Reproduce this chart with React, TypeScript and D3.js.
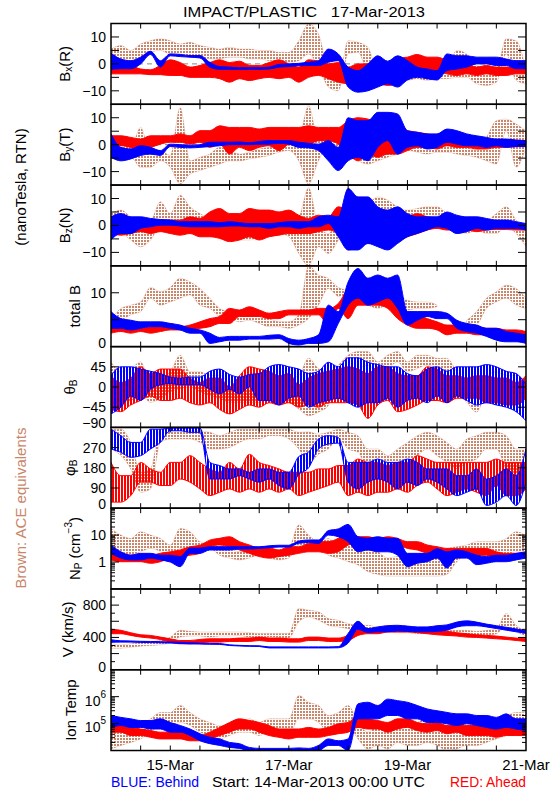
import React from "react";
import * as d3 from "d3";

// time axis: hours since 14-Mar-2013 00:00 UTC (4-hour bins)
const hours = [0, 4, 8, 12, 16, 20, 24, 28, 32, 36, 40, 44, 48, 52, 56, 60, 64, 68, 72, 76, 80, 84, 88, 92, 96, 100, 104, 108, 112, 116, 120, 124, 128, 132, 136, 140, 144, 148, 152, 156, 160, 164, 168];
const dayTicks = [24, 72, 120, 168];
const dayLabels = ["15-Mar", "17-Mar", "19-Mar", "21-Mar"];
const halfDayTicks = [12, 24, 36, 48, 60, 72, 84, 96, 108, 120, 132, 144, 156];

// ---- Bx (R), nT ----
const bxBlueLo = [-2, -1.8, -1.8, 0, 3.5, -1.2, 3, 2.7, 2.5, 2.2, -1.2, -2, -2, -2, -2, -2, -1.9, -1.2, -1, -0.7, -0.6, -0.6, 0.6, 1.2, -8.6, -10.5, -10, -8.6, -7.4, -8.6, -6, -5, -5.5, -6, -2.5, -1.9, -1.2, 0, 0, -0.6, -0.6, -1.8, -1.8];
const bxBlueHi = [4, 1.8, 1.2, 2.5, 4.7, 1.2, 3.7, 3.5, 3.1, 3.1, 0.6, -1, -1.2, -1.4, -1.4, -1.4, -1.2, -0.2, 0, 0.2, 0.6, 1.2, 5.5, 3.7, -1.2, -2.5, 0, 3, 1, 3, 1.2, -1.2, -1.9, -2.5, 3.7, 3, 3, 2.5, 2.5, 2.5, 1.8, 1.2, 1.2];
const bxRedLo = [-3.7, -3.7, -3.7, -3.7, -4, -4, -4.3, -4.3, -5, -5, -5, -5.5, -6.8, -5.5, -6.2, -5.5, -5, -5.5, -5, -6.8, -5, -4.3, -5.5, -6.8, -7.4, -8, -9, -7.4, -8, -7.4, -5.5, -3.7, -3.7, -2.5, -3.7, -4.3, -3.7, -4.3, -3.7, -4.3, -4.3, -3.7, -3.7];
const bxRedHi = [0.5, 0, -0.6, -1.9, -2.2, -0.5, 1.5, 0.5, -1.2, -0.6, 0.5, 1.5, 0.5, 1, -0.5, -0.6, 0.5, 1.5, 0, -1.2, 1.5, 1, 0, 0.5, -1.2, 0, 0, 1, 0, 2, 2.5, 3.5, 2.5, 2.5, 1.2, -0.6, 0, -1.2, -0.6, -1.2, -1.2, -1.2, -1.2];
const bxAceLo = [0.6, 1.2, 0, 2.5, 4.3, 5, 3.7, 3.7, 2.5, 2.5, 1.9, 1.9, 2.5, 2.5, 1.9, 1.9, 1.2, 1.2, 0.6, 1.2, 3.7, -1.2, -8.6, -10, 3.7, 4.3, -3.7, -6.2, -6.8, -6.8, -6.2, -5.5, -6.2, -5.5, -5.5, -5, -5, -7.4, -8, -6.8, 3.7, -6.2, -7.4];
const bxAceHi = [5.5, 6.8, 5, 7.4, 8.6, 9.3, 8.6, 7.4, 8, 6.8, 6.2, 5.5, 6.2, 5.5, 5.5, 5, 5, 4.3, 4.3, 8.6, 14.8, 11, -2.5, -6.2, 8.6, 8, 6.2, -2.5, -2.5, -3, -3, -2.5, -2.5, -2.2, -1.2, 5, 3.7, -0.6, -1.2, -1.9, 9.3, 8.6, -2.5];

// ---- By (T), nT ----
const byBlueLo = [-4.7, -6, -5.3, -4, -3.5, -4, -0.7, -1, -1.2, -1, -0.7, -0.4, 0, 0, 0, 0.2, 0.2, 0.5, 0.2, -1, -1.2, -2.2, -6, -9.6, -6, -4.7, -6, -1, 1.5, -3.5, -1, -0.4, -1.6, -1, 0.9, 0.2, -0.4, -0.4, -1, -0.4, -1, -0.7, -0.7];
const byBlueHi = [4, -1, -1.6, -0.4, -1, -2.2, 0.2, 0, -0.2, 0, 0.9, 0.9, 0.9, 1, 0.7, 1.2, 1.5, 1.5, 1.5, 0.9, 0.5, 0.2, 1.5, -1, 10, 8.9, 8.9, 12, 12, 11.4, 5.2, 4.6, 4, 4, 5.8, 5.2, 4, 3.3, 2.7, 2.1, 2.1, 1.7, 1.5];
const byRedLo = [-1, -0.4, -1, -1.6, -1, 0.2, 0.9, 0.9, 0.2, 0.9, -1, 0.2, -3.5, -1, -2.2, -1, -0.4, -2.2, 0.2, 0.9, 0.2, 1.5, 1.5, 0.2, -3.5, -6, -3.5, -4.7, -3.5, -3.5, -2.2, -1, -1, -1.6, -0.4, -1, -1, -1.6, -1.6, -1, -1, -0.7, -0.7];
const byRedHi = [3.3, 3.3, 2.7, 2.1, 3.3, 3.3, 3.3, 4, 3.3, 5.2, 5.2, 7, 6.4, 6.4, 6.4, 5.8, 6.4, 6.4, 6.4, 6.4, 7, 6.4, 6.4, 6.4, 8.9, 10, 9.5, 8.3, 7.7, 6.4, 5.2, 4.6, 4, 3.3, 3.3, 2.7, 2.7, 2.1, 2.1, 1.7, 1.5, 1.5, 1.5];
const byAceLo = [-3.5, -6, -4.7, -8.4, -8.4, -6, -8.4, -14.6, -10.9, -9.6, -8.4, -7.2, -6, -6, -5.3, -4.7, -4, -2.8, -2.2, -6, -14.6, -6, 0.2, -3.5, -3.5, -6, -7.2, -6, -4.7, -3.5, -2.2, -2.8, -3.5, -2.8, -2.8, -3.5, -4, -4.7, -6, -7.2, 5.2, -8.4, -1];
const byAceHi = [-0.4, 1.5, -1, 6.4, -3.5, -2.2, -4, 13.8, -6, -4.7, -3.5, -1, -2.2, -3.5, -2.8, -1.6, -1, 0.2, 1.5, 2.7, 14.4, 1.5, 5.2, 4, 1.5, 1.5, -1, 5.2, 1.5, 4.6, 4, 1.5, 0.2, 0.9, 0.2, -0.4, -1, -2.2, 2.7, 8.9, 9.5, 7.7, 5.2];

// ---- Bz (N), nT ----
const bzBlueLo = [-5.4, -3, -3, -1.1, -0.5, 0.1, 0.1, -0.2, -0.5, -0.5, -0.5, -0.5, -0.2, -0.2, -0.5, -0.5, -1.1, -0.5, -0.5, -1.1, -0.5, -0.5, 0.7, -4.2, -9.1, -9.1, -6.7, -7.9, -9.1, -6.7, -4.2, -3, -1.7, -0.5, -1.1, -3, -2.3, -1.1, -1.7, -1.1, -1.1, -1.1, -1.7];
const bzBlueHi = [3.2, 4.4, 3.2, 3.2, 2.6, 2.2, 2, 1.4, 1.4, 1.4, 1.4, 1, 1.4, 1, 0.7, 0.7, 0.7, 1, 1.4, 1.4, 1.4, 3.2, 3.8, 3.2, 13.7, 10.6, 10.6, 6.9, 5.7, 6.9, 4.4, 3.2, 3.2, 3.2, 5, 3.8, 3.2, 3.2, 2.6, 2, 2, 1.4, 0.7];
const bzRedLo = [-3, -3.6, -3, -2.3, -3, -2.3, -3, -3.6, -3, -4.2, -4.2, -4.8, -6, -5.4, -4.2, -5.4, -4.2, -3.6, -3, -3, -3, -2.3, -1.7, -3, -9.1, -7.9, -6.7, -6.7, -6, -5.4, -4.2, -3, -1.7, -1.1, -1.7, -1.7, -1.7, -2.3, -1.7, -1.5, -1.5, -1.7, -1.7];
const bzRedHi = [2, 2, 1.4, 2, 1.4, 2, 2, 2, 3.2, 2.6, 5, 6.3, 4.4, 4.4, 6.3, 5.7, 5.7, 5, 5.7, 3.8, 2.6, 3.8, 3.2, 6.9, 5.7, 4.4, 5, 4.4, 5, 4.4, 3.2, 4.4, 3.2, 2.6, 2.6, 2, 2, 2, 1.4, 1, 1, 0.7, 0.5];
const bzAceLo = [-4.2, -3, -5.4, -7.9, -5.4, -0.5, -3, -0.5, -3, -1.7, -1.7, -3, -4.2, -5.4, -5.4, -4.2, -3, -3, -4.2, -10.4, -15, -7.9, -10.4, -5.4, 2, 0.7, 4.4, 4.4, 3.2, 2, 2, 3.2, 3.2, 3.8, 0.7, -1.7, -3, -1.7, -3, -3, -0.5, -3, -7.9];
const bzAceHi = [4.4, 5.7, 3.2, 2, 2, 8.8, 4.4, 11.2, 6.9, 4.4, 2.6, 2, 0.7, 0.1, -0.5, 0.7, 2, 2, 2, 3.2, 14, -0.5, -3, 2, 6.9, 6.9, 8.1, 10.6, 9.4, 6.9, 5.7, 6.3, 6.9, 6.9, 4.4, 2, 2, 3.2, 2, 4.4, 6.9, 2, -3];

// ---- total B, nT ----
const btBlueLo = [3.4, 3.4, 3.1, 3.4, 3.7, 3.7, 3.4, 3.1, 2.5, 2.5, 0.6, 0.9, 1.2, 1.2, 1.4, 1.4, 1.4, 1.5, 0.6, 0.3, 0.6, 0.6, 0.9, 4.3, 7.7, 9, 7.7, 8.3, 9, 7.1, 4, 4.9, 5.6, 5.2, 5.2, 3.4, 2.8, 2.5, 1.9, 1.2, 0.9, 0.9, 0.6];
const btBlueHi = [6.5, 5.2, 4.9, 4.6, 4.6, 4.6, 4.3, 4, 3.4, 3.1, 2.5, 1.7, 1.9, 1.9, 1.9, 1.9, 2.1, 2.2, 1.5, 1.2, 1.5, 2.2, 7.7, 6.5, 12, 14.5, 12.7, 13.3, 12.7, 13.3, 6.5, 6.5, 6.5, 6.5, 6.2, 4.9, 4.3, 4, 3.4, 3.4, 2.8, 2.5, 2.2];
const btRedLo = [2.5, 2.8, 2.5, 2.8, 2.5, 2.8, 3.1, 3.1, 3.1, 3.4, 3.7, 4.3, 4.3, 5.6, 5.6, 5.6, 5.2, 5.2, 5.9, 5.9, 5.9, 5.9, 4, 7.1, 5.2, 7.7, 7.7, 7.7, 7.1, 5.2, 4, 3.4, 3.4, 3.1, 2.2, 2.5, 2.5, 2.2, 2.2, 1.9, 1.5, 1.2, 1.2];
const btRedHi = [4.3, 4, 3.7, 3.4, 3.7, 4, 4.3, 3.7, 4, 4.6, 5.2, 5.6, 7.1, 6.8, 7.4, 6.8, 6.2, 6.5, 6.8, 6.8, 6.8, 7.1, 7.1, 8, 10.8, 12, 10.2, 9.6, 9, 8.3, 6.5, 5.9, 5.2, 4.6, 4, 4, 3.7, 3.7, 3.4, 3.4, 3.1, 3.1, 2.8];
const btAceLo = [2.5, 4.6, 5.9, 6.5, 9, 7.7, 8.3, 9, 9.6, 7.7, 7.1, 5.6, 5.2, 4.6, 4.9, 4.3, 3.7, 3.7, 3.4, 4, 5.2, 7.7, 10.8, 9.3, 9, 8.3, 7.7, 7.1, 7.7, 7.1, 6.8, 7.1, 7.1, 7.4, NaN, NaN, 3.4, 4, 7.1, 8.3, 9, 7.7, 7.1];
const btAceHi = [4.9, 7.1, 7.7, 8.3, 11, 10.2, 11, 12.7, 12, 10.8, 9, 7.1, 6.5, 6.2, 6.2, 5.6, 5.2, 4.6, 4.6, 5.9, 15, 13.3, 12.7, 11, 10.5, 10.2, 9.3, 9, 9, 9.6, 8.6, 8.3, 8.3, 7.7, NaN, NaN, 4.9, 6.5, 9, 10.2, 11.4, 10.8, 9];

// ---- theta_B, degrees ----
const thBlueLo = [-60, -45, -20, -30, -5, 5, 8, 5, 5, 5, -5, -15, -5, -15, 0, -30, -30, -40, -25, -20, -45, -35, -30, -25, -35, -45, -35, -35, -25, -45, -30, -25, -35, -20, -35, -20, -30, -40, -35, -40, -45, -55, -75];
const thBlueHi = [25, 45, 45, 40, 35, 30, 22, 20, 22, 22, 35, 40, 28, 22, 28, 30, 45, 50, 45, 40, 30, 35, 55, 45, 65, 65, 55, 50, 45, 45, 30, 25, 40, 45, 35, 45, 45, 45, 50, 45, 35, 30, 5];
const thRedLo = [-50, -55, -40, -30, -20, -30, -30, -25, -35, -40, -35, -50, -60, -50, -40, -45, -35, -40, -35, -45, -40, -45, -35, -35, -35, -40, -70, -40, -30, -55, -50, -40, -30, -30, -35, -25, -25, -25, -35, -35, -40, -40, -25];
const thRedHi = [25, 10, 20, 45, 30, 40, 40, 40, 20, 10, 20, 20, 0, 25, 45, 40, 35, 25, 30, 5, 20, 30, 35, 40, 45, 40, 30, 45, 45, 30, 25, 25, 45, 40, 25, 25, 20, 25, 25, 20, 20, 10, 25];
const thAceLo = [11, -34, -30, -19, -34, -26, -11, -4, 0, -11, -19, -26, -34, -34, -34, -34, -19, -34, -34, -49, -64, -56, -41, 19, 34, 41, 49, 34, 41, 56, 34, 41, 49, 41, 26, -11, -34, -56, -19, -19, -34, -26, -34];
const thAceHi = [56, 34, 41, 56, 11, 19, 34, 71, 34, 34, 26, 26, 11, 11, -4, 11, 11, 11, 19, 26, 64, 41, 34, 49, 71, 79, 79, 56, 71, 79, 56, 71, 71, 64, 64, 34, 11, -4, 26, 34, 26, 26, 11];

// ---- phi_B, degrees ----
const phBlueLo = [264, 249, 227, 234, 264, 293, 345, 345, 338, 338, 130, 130, 130, 145, 130, 116, 130, 101, 86, 150, 180, 264, 286, 290, 116, 86, 116, 130, 116, 86, 116, 101, 130, 116, 86, 56, 71, 86, 12, 27, 56, 12, 116];
const phBlueHi = [352, 323, 293, 293, 352, 352, 357, 357, 357, 357, 204, 190, 175, 175, 160, 175, 175, 160, 160, 230, 250, 308, 323, 315, 204, 204, 204, 219, 204, 204, 219, 204, 175, 175, 175, 145, 145, 175, 130, 145, 175, 145, 264];
const phRedLo = [27, 27, 56, 116, 116, 101, 101, 130, 116, 86, 56, 71, 86, 71, 86, 71, 86, 71, 86, 56, 71, 86, 101, 116, 56, 71, 56, 71, 71, 86, 71, 101, 116, 86, 56, 71, 86, 71, 56, 101, 56, 56, 86];
const phRedHi = [204, 145, 145, 204, 175, 160, 204, 204, 234, 204, 175, 160, 204, 175, 240, 204, 190, 175, 160, 160, 160, 175, 175, 190, 190, 219, 204, 204, 190, 204, 204, 234, 219, 204, 204, 204, 204, 204, 204, 219, 204, 204, 204];
const phAceLo = [264, 234, 175, 71, 86, 293, 308, 308, 308, 293, 264, 264, 270, 293, 308, 308, 323, 323, 308, 264, 200, 240, 264, 308, 264, 249, 175, 175, 145, 175, 204, 234, 264, 234, 204, 175, 204, 219, 264, 264, 175, 145, 145];
const phAceHi = [352, 352, 293, 160, 175, 352, 352, 352, 345, 345, 338, 323, 338, 352, 352, 352, 352, 352, 352, 338, 340, 330, 338, 352, 338, 323, 264, 264, 234, 264, 293, 323, 338, 323, 293, 264, 308, 323, 338, 338, 323, 264, 264];

// ---- proton density, cm^-3 ----
const npBlueLo = [2.1, 1.4, 1.2, 1.2, 1.4, 1.2, 1.0, 0.67, 2.1, 2.1, 2.8, 2.8, 2.8, 3.05, 3.05, 3.2, 3.4, 3.6, 3.6, 5, 5.3, 4.9, 10, 8.7, 5.7, 2.4, 2.8, 2.4, 2.4, 1.8, 0.67, 0.9, 1.03, 1.4, 0.6, 1.4, 1.4, 0.8, 0.9, 1.03, 1.03, 1.2, 1.4];
const npBlueHi = [4.3, 2.4, 1.8, 2.1, 2.1, 1.8, 1.8, 1.6, 3.3, 3.3, 3.7, 3.7, 3.7, 3.7, 3.7, 3.7, 4, 4.2, 4.2, 6, 6.6, 6.6, 14.7, 17, 25, 8.7, 7.6, 8.7, 7.6, 7.6, 2.1, 2.1, 2.1, 3.1, 2.4, 2.8, 2.4, 1.8, 1.6, 1.8, 1.8, 2.1, 2.4];
const npRedLo = [1.2, 1.03, 1.03, 1.03, 0.9, 1.03, 1.4, 1.6, 1.8, 2.1, 3.7, 4.3, 3.7, 2.8, 2.1, 1.6, 1.4, 1.6, 1.8, 2.1, 2.4, 2.4, 2.1, 2.4, 4.3, 5, 5, 4.3, 4.3, 4.3, 3.2, 2.8, 2.1, 1.8, 1.6, 1.8, 1.6, 1.8, 1.8, 1.4, 1.4, 1.4, 1.6];
const npRedHi = [2.4, 2.1, 1.8, 1.8, 1.8, 2.1, 2.4, 2.8, 3.7, 4.2, 6.5, 7.6, 8.7, 5.7, 4.3, 3.3, 3.3, 2.8, 3.7, 3.7, 4.9, 5.7, 5.7, 7.6, 12.5, 8.7, 8.7, 7.5, 8.7, 7.5, 5.7, 5.7, 4.3, 3.7, 3.2, 3.2, 3.2, 3.2, 3.2, 2.4, 2.1, 2.1, 2.1];
const npAceLo = [2.4, 1.4, 1.8, 2.4, 3.2, 2.4, 1.03, 3.2, 2.4, 3.2, 3.2, 1.8, 1.4, 1.2, 1.4, 1.8, 1.4, 1.2, 1.4, 4.3, 3.2, 3.2, 1.8, 1.4, 1.03, 0.78, 0.44, 0.35, 0.3, 0.3, 0.3, 0.3, 0.3, 0.3, 0.35, 1.03, 1.8, 1.8, 1.8, 1.4, 1.8, 2.4, 2.4];
const npAceHi = [17.7, 10, 7.5, 13.3, 10, 7.5, 4.3, 17.7, 13.3, 5.7, 4.9, 4.3, 3.2, 2.4, 3.2, 3.2, 2.8, 2.4, 3.2, 23.5, 10, 5.7, 7.5, 4.3, 4.3, 5.3, 3.2, 2.4, 1.4, 1.6, 1.03, 1.03, 1.4, 1.8, 3.2, 3.7, 4.3, 5.7, 5.7, 5.7, 7.5, 13.3, 10];

// ---- bulk speed, km/s ----
const vBlueLo = [340, 342, 342, 338, 336, 334, 330, 326, 320, 318, 315, 314, 300, 294, 290, 288, 270, 270, 270, 270, 270, 270, 270, 272, 330, 500, 460, 470, 470, 480, 475, 470, 470, 475, 490, 530, 545, 545, 530, 510, 490, 470, 450];
const vBlueHi = [372, 358, 356, 352, 350, 348, 344, 340, 334, 330, 326, 324, 308, 302, 298, 296, 283, 283, 283, 283, 283, 283, 283, 286, 450, 600, 510, 530, 545, 550, 540, 530, 530, 545, 555, 590, 605, 590, 565, 545, 525, 505, 485];
const vRedLo = [446, 446, 425, 404, 392, 375, 342, 321, 321, 333, 342, 342, 350, 350, 350, 362, 350, 350, 342, 342, 362, 362, 350, 350, 362, 425, 446, 446, 467, 467, 467, 458, 446, 433, 425, 417, 404, 400, 392, 383, 375, 362, 350];
const vRedHi = [500, 488, 458, 433, 425, 404, 383, 362, 362, 375, 383, 383, 383, 392, 392, 404, 392, 392, 383, 383, 404, 404, 392, 392, 425, 488, 508, 508, 517, 525, 517, 508, 500, 488, 475, 458, 446, 433, 425, 417, 404, 392, 383];
const vAceLo = [267, 267, 279, 292, 300, 308, 333, 404, 417, 417, 404, 417, 417, 425, 404, 404, 404, 400, 392, 592, 654, 612, 550, 529, 508, 467, 467, 458, 467, 458, 458, 446, 446, 433, 425, 425, 425, 417, 425, 446, 529, 467, 417];
const vAceHi = [321, 308, 321, 333, 350, 362, 404, 488, 475, 467, 467, 467, 467, 467, 458, 450, 450, 450, 450, 758, 737, 717, 633, 612, 571, 550, 550, 529, 550, 529, 529, 517, 517, 508, 488, 488, 488, 475, 488, 508, 696, 550, 475];

// ---- ion temperature, K ----
const tBlueLo = [7.2e4, 8.5e4, 7.2e4, 7.2e4, 6.3e4, 6.3e4, 4.8e4, 4.8e4, 3.6e4, 2.3e4, 1.8e4, 1.55e4, 1.3e4, 1.2e4, 1.0e4, 1.0e4, 1.0e4, 1.0e4, 1.0e4, 1.0e4, 1.0e4, 1.0e4, 1.55e4, 1.55e4, 1.0e4, 1.5e5, 1.5e5, 1.5e5, 2.0e5, 2.0e5, 1.5e5, 1.5e5, 1.1e5, 1.1e5, 9.8e4, 8.5e4, 9.8e4, 8.5e4, 7.2e4, 6.3e4, 7.2e4, 6.3e4, 5.5e4];
const tBlueHi = [2.0e5, 1.7e5, 1.5e5, 1.3e5, 1.3e5, 1.5e5, 1.1e5, 8.5e4, 6.3e4, 4.2e4, 3.1e4, 2.7e4, 2.0e4, 1.8e4, 1.3e4, 1.2e4, 1.2e4, 1.2e4, 1.2e4, 1.25e4, 1.2e4, 1.55e4, 2.7e4, 2.3e4, 2.7e4, 5.4e5, 6.2e5, 4.7e5, 8.1e5, 7.1e5, 6.2e5, 4.7e5, 3.5e5, 3.0e5, 2.6e5, 2.3e5, 2.3e5, 2.0e5, 2.0e5, 1.7e5, 2.3e5, 1.5e5, 1.5e5];
const tRedLo = [4.8e4, 4.8e4, 3.6e4, 3.6e4, 3.1e4, 2.7e4, 2.7e4, 2.7e4, 2.3e4, 2.3e4, 2.7e4, 3.6e4, 4.8e4, 6.3e4, 6.3e4, 4.8e4, 3.6e4, 3.1e4, 2.7e4, 3.1e4, 3.1e4, 3.1e4, 3.6e4, 4.2e4, 4.8e4, 7.2e4, 6.3e4, 6.3e4, 4.8e4, 6.3e4, 7.2e4, 5.5e4, 4.8e4, 5.5e4, 4.2e4, 4.8e4, 3.6e4, 3.6e4, 3.6e4, 3.1e4, 3.6e4, 3.6e4, 3.6e4];
const tRedHi = [9.8e4, 8.5e4, 7.2e4, 6.3e4, 5.5e4, 4.8e4, 4.8e4, 4.8e4, 4.2e4, 3.6e4, 4.8e4, 7.2e4, 1.1e5, 1.5e5, 1.3e5, 1.1e5, 8.5e4, 6.3e4, 6.3e4, 6.3e4, 7.2e4, 6.3e4, 7.2e4, 9.8e4, 1.1e5, 2.0e5, 1.5e5, 1.3e5, 1.1e5, 1.5e5, 1.5e5, 1.1e5, 9.8e4, 1.1e5, 8.5e4, 9.8e4, 8.5e4, 8.5e4, 7.2e4, 7.2e4, 8.5e4, 8.5e4, 8.5e4];
const tAceLo = [1.15e4, 1.55e4, 2.0e4, 2.7e4, 4.8e4, 8.5e4, 8.5e4, 1.1e5, 8.5e4, 4.8e4, 3.6e4, 2.7e4, 3.6e4, 4.8e4, 4.8e4, 3.6e4, 4.8e4, 3.6e4, 3.6e4, 1.5e5, 1.5e5, 1.1e5, 4.8e4, 4.8e4, 8.5e4, 2.7e4, 1.15e4, 1.55e4, 1.15e4, 2.0e4, 1.55e4, 1.55e4, 2.0e4, 1.55e4, 1.0e4, 1.15e4, 1.55e4, 1.55e4, 2.0e4, 2.7e4, 3.6e4, 4.8e4, 6.3e4];
const tAceHi = [4.8e4, 4.8e4, 6.3e4, 8.5e4, 1.5e5, 2.6e5, 2.6e5, 4.7e5, 2.6e5, 1.5e5, 1.1e5, 8.5e4, 8.5e4, 1.1e5, 1.5e5, 1.1e5, 1.5e5, 1.5e5, 1.5e5, 1.1e6, 6.2e5, 4.7e5, 2.0e5, 2.6e5, 4.7e5, 1.1e5, 4.8e4, 8.5e4, 6.3e4, 1.5e5, 8.5e4, 1.1e5, 1.5e5, 1.1e5, 4.2e4, 4.8e4, 6.3e4, 8.5e4, 1.1e5, 1.5e5, 2.0e5, 2.6e5, 2.6e5];

const BLUE = "#0000ff";
const RED = "#ff0000";
const ACE = "#c8866a";
const FONT = "'Liberation Sans', Arial, sans-serif";

const L = 111;
const R = 526;
const TOP = 23.5;
const PH = 80.78;

type TickLabel = { v: number; text: string; sup?: string; dy?: number };
type Series = { lo: number[]; hi: number[]; color: string; fill: string; sw: number; so: number };
type PanelSpec = {
  log: boolean;
  domain: [number, number];
  ticks: number[];
  minor: number[];
  labels: TickLabel[];
  zero?: boolean;
  title: React.ReactNode;
  titleX: number;
  series: Series[];
};

const logMinor = (decades: number[]) =>
  decades.flatMap((d) => [2, 3, 4, 5, 6, 7, 8, 9].map((m) => m * d));

// noisy: angle panels, where red and blue interleave
const trio = (
  lo1: number[], hi1: number[], lo2: number[], hi2: number[], lo3: number[], hi3: number[], noisy = false
): Series[] => [
  { lo: lo1, hi: hi1, color: ACE, fill: "url(#patAce)", sw: 0.6, so: 0.5 },
  { lo: lo2, hi: hi2, color: RED, fill: noisy ? "url(#patRed)" : RED, sw: 1, so: 1 },
  { lo: lo3, hi: hi3, color: BLUE, fill: noisy ? "url(#patBlue)" : BLUE, sw: 1, so: 1 },
];

const bLabels: TickLabel[] = [
  { v: 10, text: "10" },
  { v: 0, text: "0" },
  { v: -10, text: "\u221210" },
];

const panels: PanelSpec[] = [
  {
    log: false, domain: [-15, 15], ticks: [-10, -5, 0, 5, 10], minor: [], labels: bLabels, zero: true,
    title: <>B<tspan dy={4} fontSize={10}>x</tspan><tspan dy={-4}>(R)</tspan></>, titleX: 64,
    series: trio(bxAceLo, bxAceHi, bxRedLo, bxRedHi, bxBlueLo, bxBlueHi),
  },
  {
    log: false, domain: [-15, 15], ticks: [-10, -5, 0, 5, 10], minor: [], labels: bLabels, zero: true,
    title: <>B<tspan dy={4} fontSize={10}>y</tspan><tspan dy={-4}>(T)</tspan></>, titleX: 64,
    series: trio(byAceLo, byAceHi, byRedLo, byRedHi, byBlueLo, byBlueHi),
  },
  {
    log: false, domain: [-15, 15], ticks: [-10, -5, 0, 5, 10], minor: [], labels: bLabels, zero: true,
    title: <>B<tspan dy={4} fontSize={10}>z</tspan><tspan dy={-4}>(N)</tspan></>, titleX: 64,
    series: trio(bzAceLo, bzAceHi, bzRedLo, bzRedHi, bzBlueLo, bzBlueHi),
  },
  {
    log: false, domain: [0, 15], ticks: [5, 10], minor: [], labels: [{ v: 10, text: "10" }, { v: 0, text: "0", dy: -4 }],
    title: <>total B</>, titleX: 74,
    series: trio(btAceLo, btAceHi, btRedLo, btRedHi, btBlueLo, btBlueHi),
  },
  {
    log: false, domain: [-90, 90], ticks: [-45, 0, 45], minor: [],
    labels: [{ v: 45, text: "45" }, { v: 0, text: "0" }, { v: -45, text: "\u221245" }, { v: -90, text: "\u221290", dy: -4 }],
    title: <>{"\u03b8"}<tspan dy={4} fontSize={10}>B</tspan></>, titleX: 69,
    series: trio(thAceLo, thAceHi, thRedLo, thRedHi, thBlueLo, thBlueHi, true),
  },
  {
    log: false, domain: [0, 360], ticks: [90, 180, 270], minor: [],
    labels: [{ v: 270, text: "270" }, { v: 180, text: "180" }, { v: 90, text: "90" }, { v: 0, text: "0", dy: -4 }],
    title: <>{"\u03c6"}<tspan dy={4} fontSize={10}>B</tspan></>, titleX: 69,
    series: trio(phAceLo, phAceHi, phRedLo, phRedHi, phBlueLo, phBlueHi, true),
  },
  {
    log: true, domain: [0.1, 100], ticks: [1, 10], minor: logMinor([0.1, 1, 10]),
    labels: [{ v: 10, text: "10" }, { v: 1, text: "1" }],
    title: <>N<tspan dy={4} fontSize={10}>P</tspan><tspan dy={-4}> (cm</tspan><tspan dy={-6} fontSize={10}>{"\u22123"}</tspan><tspan dy={6}>)</tspan></>,
    titleX: 74,
    series: trio(npAceLo, npAceHi, npRedLo, npRedHi, npBlueLo, npBlueHi),
  },
  {
    log: false, domain: [0, 1000], ticks: [200, 400, 600, 800], minor: [100, 300, 500, 700, 900],
    labels: [{ v: 800, text: "800" }, { v: 400, text: "400" }, { v: 0, text: "0", dy: -3 }],
    title: <>V (km/s)</>, titleX: 67,
    series: trio(vAceLo, vAceHi, vRedLo, vRedHi, vBlueLo, vBlueHi),
  },
  {
    log: true, domain: [1e4, 1e7], ticks: [1e5, 1e6], minor: logMinor([1e4, 1e5, 1e6]),
    labels: [{ v: 1e6, text: "10", sup: "6", dy: 4 }, { v: 1e5, text: "10", sup: "5", dy: 3 }],
    title: <>Ion Temp</>, titleX: 70,
    series: trio(tAceLo, tAceHi, tRedLo, tRedHi, tBlueLo, tBlueHi),
  },
];

const x = d3.scaleLinear().domain([0, 168]).range([L, R]);

function Panel({ p, idx }: { p: PanelSpec; idx: number }) {
  const top = TOP + idx * PH;
  const bottom = top + PH;
  const y = (p.log ? d3.scaleLog() : d3.scaleLinear()).domain(p.domain).range([bottom, top]);
  const clipId = `clip-${idx}`;
  const mk = (lo: number[], hi: number[]) =>
    d3
      .area<number>()
      .defined((_, i) => Number.isFinite(lo[i]) && Number.isFinite(hi[i]))
      .x((h) => x(h))
      .y0((_, i) => y(lo[i]))
      .y1((_, i) => y(hi[i]))
      .curve(d3.curveMonotoneX)(hours) || "";
  return (
    <g>
      <defs>
        <clipPath id={clipId}>
          <rect x={L} y={top} width={R - L} height={PH} />
        </clipPath>
      </defs>
      <g clipPath={`url(#${clipId})`}>
        {p.zero && (
          <line x1={L} x2={R} y1={y(0)} y2={y(0)} stroke="#888" strokeWidth={1} strokeDasharray="5,4" />
        )}
        {p.series.map((s, k) => (
          <path
            key={k}
            d={mk(s.lo, s.hi)}
            fill={s.fill}
            stroke={s.color}
            strokeOpacity={s.so}
            strokeWidth={s.sw}
          />
        ))}
      </g>
      {p.ticks.map((v) => (
        <g key={`t${v}`}>
          <line x1={L} x2={L + 8} y1={y(v)} y2={y(v)} stroke="#000" strokeWidth={1} />
          <line x1={R} x2={R - 8} y1={y(v)} y2={y(v)} stroke="#000" strokeWidth={1} />
        </g>
      ))}
      {p.minor.map((v) => (
        <g key={`m${v}`}>
          <line x1={L} x2={L + 4} y1={y(v)} y2={y(v)} stroke="#000" strokeWidth={1} />
          <line x1={R} x2={R - 4} y1={y(v)} y2={y(v)} stroke="#000" strokeWidth={1} />
        </g>
      ))}
      {halfDayTicks.map((h) => (
        <g key={`x${h}`}>
          <line x1={x(h)} x2={x(h)} y1={top} y2={top + 5} stroke="#000" strokeWidth={1} />
          <line x1={x(h)} x2={x(h)} y1={bottom} y2={bottom - 5} stroke="#000" strokeWidth={1} />
        </g>
      ))}
      <rect x={L} y={top} width={R - L} height={PH} fill="none" stroke="#000" strokeWidth={1.5} />
      {p.labels.map((lb) => (
        <text
          key={`l${lb.v}`}
          x={106}
          y={y(lb.v) + (lb.dy ?? 0)}
          textAnchor="end"
          dominantBaseline="central"
          fontSize={14}
          fontFamily={FONT}
        >
          {lb.text}
          {lb.sup && (
            <tspan dy={-7} fontSize={10}>
              {lb.sup}
            </tspan>
          )}
        </text>
      ))}
      <text
        transform={`translate(${p.titleX},${top + PH / 2}) rotate(-90)`}
        textAnchor="middle"
        dominantBaseline="central"
        fontSize={15}
        fontFamily={FONT}
      >
        {p.title}
      </text>
    </g>
  );
}

export default function App() {
  return (
    <svg
      width={550}
      height={800}
      style={{ position: "absolute", left: 0, top: 0, background: "#fff" }}
      fontFamily={FONT}
    >
      <defs>
        <pattern id="patBlue" width={3} height={3} patternUnits="userSpaceOnUse">
          <rect x={0} y={0} width={2} height={3} fill={BLUE} />
        </pattern>
        <pattern id="patRed" width={3} height={3} patternUnits="userSpaceOnUse">
          <rect x={1} y={0} width={2} height={3} fill={RED} />
        </pattern>
        <pattern id="patAce" width={3} height={3} patternUnits="userSpaceOnUse">
          <rect x={0} y={0} width={2} height={2} fill={ACE} />
        </pattern>
      </defs>
      <rect x={0} y={0} width={550} height={800} fill="#fff" />
      <text x={304} y={17} textAnchor="middle" fontSize={15} style={{ whiteSpace: "pre" }} textLength={242} lengthAdjust="spacingAndGlyphs">
        {"IMPACT/PLASTIC   17-Mar-2013"}
      </text>
      {panels.map((p, i) => (
        <Panel key={i} p={p} idx={i} />
      ))}
      {dayTicks.map((h, i) => (
        <text key={h} x={x(h)} y={770} textAnchor="middle" fontSize={15}>
          {dayLabels[i]}
        </text>
      ))}
      <text transform="translate(20,187) rotate(-90)" textAnchor="middle" dominantBaseline="central" fontSize={15}>
        (nanoTesla,  RTN)
      </text>
      <text transform="translate(20,508) rotate(-90)" textAnchor="middle" dominantBaseline="central" fontSize={15} fill={ACE}>
        Brown: ACE equivalents
      </text>
      <text x={111} y={787} fontSize={15} fill={BLUE} textLength={88} lengthAdjust="spacingAndGlyphs">
        BLUE: Behind
      </text>
      <text x={212} y={787} fontSize={15} fill="#000" textLength={213} lengthAdjust="spacingAndGlyphs">
        Start: 14-Mar-2013 00:00 UTC
      </text>
      <text x={450} y={787} fontSize={15} fill={RED} textLength={76} lengthAdjust="spacingAndGlyphs">
        RED: Ahead
      </text>
    </svg>
  );
}
